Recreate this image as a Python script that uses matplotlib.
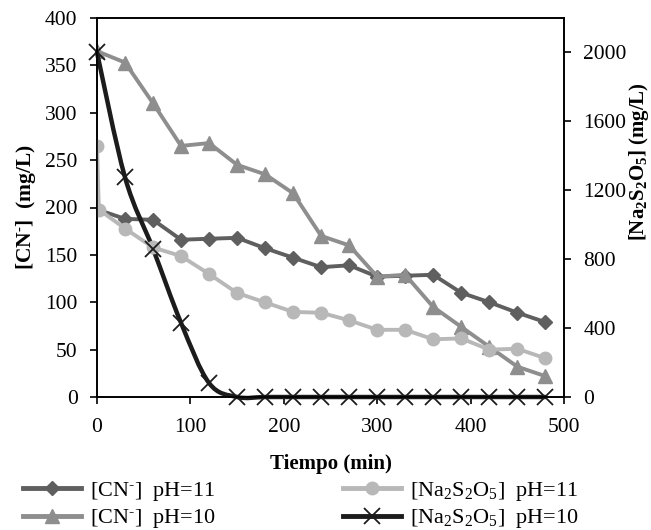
import numpy as np
import matplotlib
matplotlib.use("Agg")
import matplotlib.pyplot as plt
from matplotlib.path import Path
from matplotlib.patches import PathPatch
from matplotlib.lines import Line2D

plt.rcParams['font.family'] = ['Liberation Serif', 'DejaVu Serif']
plt.rcParams['mathtext.fontset'] = 'custom'
plt.rcParams['mathtext.rm'] = 'Liberation Serif'
plt.rcParams['mathtext.bf'] = 'Liberation Serif:bold'
plt.rcParams['mathtext.it'] = 'Liberation Serif:italic'

# Time (min)
t_cn = [0, 30, 60, 90, 120, 150, 180, 210, 240, 270, 300, 330, 360, 390, 420, 450, 480]
# [CN-] mg/L (left axis)
cn_ph11 = [198, 188, 187, 166, 167, 168, 157, 147, 137, 139, 127, 128, 129, 110, 100, 89, 79]
cn_ph10 = [365, 353, 310, 265, 268, 245, 235, 215, 170, 160, 127, 129, 95, 74, 53, 32, 22]
# [Na2S2O5] mg/L (right axis)
t_na11 = [0, 2, 30, 60, 90, 120, 150, 180, 210, 240, 270, 300, 330, 360, 390, 420, 450, 480]
na_ph11 = [1455, 1088, 978, 868, 818, 714, 604, 549, 494, 489, 445, 390, 390, 335, 340, 275, 280, 225]
t_na10 = [0, 30, 60, 90, 120, 150, 180, 210, 240, 270, 300, 330, 360, 390, 420, 450, 480]
na_ph10 = [2000, 1275, 860, 430, 81, 0, 0, 0, 0, 0, 0, 0, 0, 0, 0, 0, 0]

c_dark = '#5f5f5f'
c_mid = '#8e8e8e'
c_light = '#b8b8b8'
c_black = '#1c1c1c'


def smooth_path(x, y):
    # Catmull-Rom through the data points, drawn as cubic Bezier segments
    p = np.column_stack([x, y]).astype(float)
    verts = [p[0]]
    codes = [Path.MOVETO]
    n = len(p)
    for i in range(n - 1):
        p0 = p[i - 1] if i > 0 else p[i]
        p3 = p[i + 2] if i + 2 < n else p[i + 1]
        c1 = p[i] + (p[i + 1] - p0) / 6
        c2 = p[i + 1] - (p3 - p[i]) / 6
        verts += [c1, c2, p[i + 1]]
        codes += [Path.CURVE4] * 3
    return Path(verts, codes)


fig = plt.figure(figsize=(6.51, 5.30), dpi=100)
ax = fig.add_axes([97 / 651, 133 / 530, 467 / 651, 379 / 530])
ax2 = ax.twinx()

ax.plot(t_cn, cn_ph11, color=c_dark, lw=2.8, marker='D', ms=7, mec=c_dark, mfc=c_dark)
ax.plot(t_cn, cn_ph10, color=c_mid, lw=2.8, marker='^', ms=9.5, mec=c_mid, mfc=c_mid)

ax2.plot(t_na11, na_ph11, color=c_light, lw=2.8, marker='o', ms=9, mec=c_light, mfc=c_light)
ax2.add_patch(PathPatch(smooth_path(t_na10, na_ph10), fill=False, ec=c_black, lw=3.2,
                        capstyle='round', joinstyle='round', clip_on=False))
ax2.plot(t_na10, na_ph10, ls='none', marker='x', ms=12, mew=1.3, color=c_black, clip_on=False)

ax.set_xlim(0, 500)
ax.set_ylim(0, 400)
ax2.set_ylim(0, 2200)
ax.set_xticks(np.arange(0, 501, 100))
ax.set_yticks(np.arange(0, 401, 50))
ax2.set_yticks(np.arange(0, 2001, 400))

for a in (ax, ax2):
    for s in a.spines.values():
        s.set_linewidth(1.2)
        s.set_color('black')
ax.tick_params(axis='x', direction='out', length=5, width=1.2, pad=10, labelsize=15.5)
ax.tick_params(axis='y', direction='out', length=5, width=1.2, pad=9, labelsize=15.5)
ax2.tick_params(axis='y', direction='out', length=5, width=1.2, pad=9, labelsize=15.5)

ax.set_xlabel('Tiempo (min)', fontsize=15, fontweight='bold', labelpad=12)
ax.set_ylabel(r'$\mathbf{[CN}^{\mathbf{\text{-}}}\mathbf{]\ \ (mg/L)}$', fontsize=15.5, labelpad=5)
ax2.set_ylabel(r'$\mathbf{[Na_2S_2O_5]\ (mg/L)}$', fontsize=15)
ax2.yaxis.set_label_coords(1.134, 0.62)

handles = [
    Line2D([], [], color=c_dark, lw=3.5, marker='D', ms=7),
    Line2D([], [], color=c_mid, lw=3.5, marker='^', ms=9.5),
    Line2D([], [], color=c_light, lw=3.5, marker='o', ms=9),
    Line2D([], [], color=c_black, lw=3.5, marker='x', ms=12, mew=1.3),
]
labels = [
    r'[CN$^{\text{-}}$]  pH=11',
    r'[CN$^{\text{-}}$]  pH=10',
    r'[Na$_2$S$_2$O$_5$]  pH=11',
    r'[Na$_2$S$_2$O$_5$]  pH=10',
]
fig.legend(handles, labels, ncol=2, loc='upper left', bbox_to_anchor=(23 / 651, 1 - 480 / 530),
           frameon=False, fontsize=16, handlelength=2.6, handletextpad=0.4,
           columnspacing=5.75, labelspacing=0.2, borderpad=0, borderaxespad=0)

fig.savefig('out.png', dpi=100)
